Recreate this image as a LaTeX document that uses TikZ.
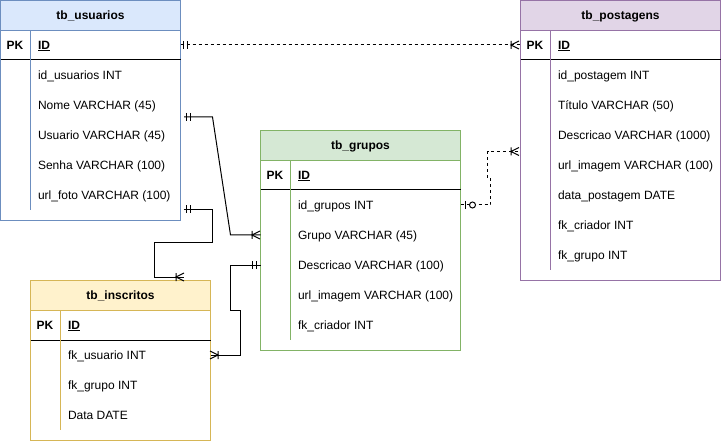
\documentclass[tikz,border=0pt]{standalone}
\usepackage{fontspec}
\setmainfont{Liberation Sans}
\definecolor{usuFill}{HTML}{DAE8FC}
\definecolor{usuLine}{HTML}{6C8EBF}
\definecolor{grpFill}{HTML}{D5E8D4}
\definecolor{grpLine}{HTML}{82B366}
\definecolor{posFill}{HTML}{E1D5E7}
\definecolor{posLine}{HTML}{9673A6}
\definecolor{insFill}{HTML}{FFF2CC}
\definecolor{insLine}{HTML}{D6B656}

\begin{document}
\begin{tikzpicture}[x=1pt, y=-1pt, line width=1pt,
    every node/.style={font=\fontsize{12}{14}\selectfont, inner sep=0pt, outer sep=0pt},
    frame/.style={fill=white, anchor=north west},
    head/.style={anchor=north west, minimum height=30, text height=10.86, text depth=2.54, font=\fontsize{12}{14}\selectfont\bfseries},
    row/.style={anchor=west, text height=10.86, text depth=2.54},
    key/.style={text height=10.86, text depth=2.54, font=\fontsize{12}{14}\selectfont\bfseries},
    opt/.style={dash pattern=on 3pt off 3pt}]
    \useasboundingbox (0,0) rectangle (721,441);

    % tb_usuarios
    \node (U) [frame, draw=usuLine, minimum width=180, minimum height=220] at (0.5,0.5) {};
    \node (UH) [head, draw=usuLine, fill=usuFill, minimum width=180] at (0.5,0.5) {tb\_usuarios};
    \node (UK) [key] at (15,45) {PK};
    \node (U0) [row, font=\fontsize{12}{14}\selectfont\bfseries] at (38,45) {\underline{ID}};
    \node (U1) [row] at (38,75) {id\_usuarios INT};
    \node (U2) [row] at (38,105) {Nome VARCHAR (45)};
    \node (U3) [row] at (38,135) {Usuario VARCHAR (45)};
    \node (U4) [row] at (38,165) {Senha VARCHAR (100)};
    \node (U5) [row] at (38,195) {url\_foto VARCHAR (100)};
    \draw (0.5,60) -- (180.5,60);
    \draw [usuLine] (30.5,30.5) -- (30.5,210);

    % tb_grupos
    \node (G) [frame, draw=grpLine, minimum width=200, minimum height=220] at (260.5,130.5) {};
    \node (GH) [head, draw=grpLine, fill=grpFill, minimum width=200] at (260.5,130.5) {tb\_grupos};
    \node (GK) [key] at (275,175) {PK};
    \node (G0) [row, font=\fontsize{12}{14}\selectfont\bfseries] at (298,175) {\underline{ID}};
    \node (G1) [row] at (298,205) {id\_grupos INT};
    \node (G2) [row] at (298,235) {Grupo VARCHAR (45)};
    \node (G3) [row] at (298,265) {Descricao VARCHAR (100)};
    \node (G4) [row] at (298,295) {url\_imagem VARCHAR (100)};
    \node (G5) [row] at (298,325) {fk\_criador INT};
    \draw (260.5,190) -- (460.5,190);
    \draw [grpLine] (290.5,160.5) -- (290.5,340);

    % tb_postagens
    \node (P) [frame, draw=posLine, minimum width=200, minimum height=280] at (520.5,0.5) {};
    \node (PH) [head, draw=posLine, fill=posFill, minimum width=200] at (520.5,0.5) {tb\_postagens};
    \node (PK) [key] at (535,45) {PK};
    \node (P0) [row, font=\fontsize{12}{14}\selectfont\bfseries] at (558,45) {\underline{ID}};
    \node (P1) [row] at (558,75) {id\_postagem INT};
    \node (P2) [row] at (558,105) {Título VARCHAR (50)};
    \node (P3) [row] at (558,135) {Descricao VARCHAR (1000)};
    \node (P4) [row] at (558,165) {url\_imagem VARCHAR (100)};
    \node (P5) [row] at (558,195) {data\_postagem DATE};
    \node (P6) [row] at (558,225) {fk\_criador INT};
    \node (P7) [row] at (558,255) {fk\_grupo INT};
    \draw (520.5,60) -- (720.5,60);
    \draw [posLine] (550.5,30.5) -- (550.5,270);

    % tb_inscritos
    \node (I) [frame, draw=insLine, minimum width=180, minimum height=160] at (30.5,280.5) {};
    \node (IH) [head, draw=insLine, fill=insFill, minimum width=180] at (30.5,280.5) {tb\_inscritos};
    \node (IK) [key] at (45,325) {PK};
    \node (I0) [row, font=\fontsize{12}{14}\selectfont\bfseries] at (68,325) {\underline{ID}};
    \node (I1) [row] at (68,355) {fk\_usuario INT};
    \node (I2) [row] at (68,385) {fk\_grupo INT};
    \node (I3) [row] at (68,415) {Data DATE};
    \draw (30.5,340) -- (210.5,340);
    \draw [insLine] (60.5,310.5) -- (60.5,430);

    % free ends
    \coordinate (ua) at (184,117);
    \coordinate (ub) at (183.5,209.5);
    \coordinate (ic) at (184,277);
    \coordinate (pc) at (519,151.5);

    % relations
    \draw [opt] (U.east |- U0) -- (P.west |- P0);
    \draw (183.5,41) -- (183.5,49) (187,41) -- (187,49);
    \draw (511,41) -- (511,49) (519,41) -- (511,45) -- (519,49);

    \draw (ua) -- (212.5,117) -- (230.5,235) -- (G.west |- G2);
    \draw (186.5,113) -- (186.5,121) (190,113) -- (190,121);
    \draw (252,231) -- (252,239) (260,231) -- (252,235) -- (260,239);

    \draw (ub) -- (212.5,209.5) -- (212.5,243) -- (154.5,243) -- (154.5,277) -- (ic);
    \draw (186.5,205.5) -- (186.5,213.5) (190,205.5) -- (190,213.5);
    \draw (176,273) -- (176,281) (184,273) -- (176,277) -- (184,281);

    \draw (G.west |- G3) -- (230.5,265) -- (230.5,310) -- (240.5,310) -- (240.5,355) -- (I.east |- I1);
    \draw (252.5,261) -- (252.5,269) (256,261) -- (256,269);
    \draw (218,351) -- (218,359) (210,351) -- (218,355) -- (210,359);

    \draw [opt] (G.east |- G1) -- (490.5,205) -- (490.5,178.5) -- (487.5,178.5) -- (487.5,151.5) -- (pc);
    \draw (465,201) -- (465,209);
    \draw [fill=white] (472.5,205) circle (3);
    \draw (511,147.5) -- (511,155.5) (519,147.5) -- (511,151.5) -- (519,155.5);
\end{tikzpicture}
\end{document}
